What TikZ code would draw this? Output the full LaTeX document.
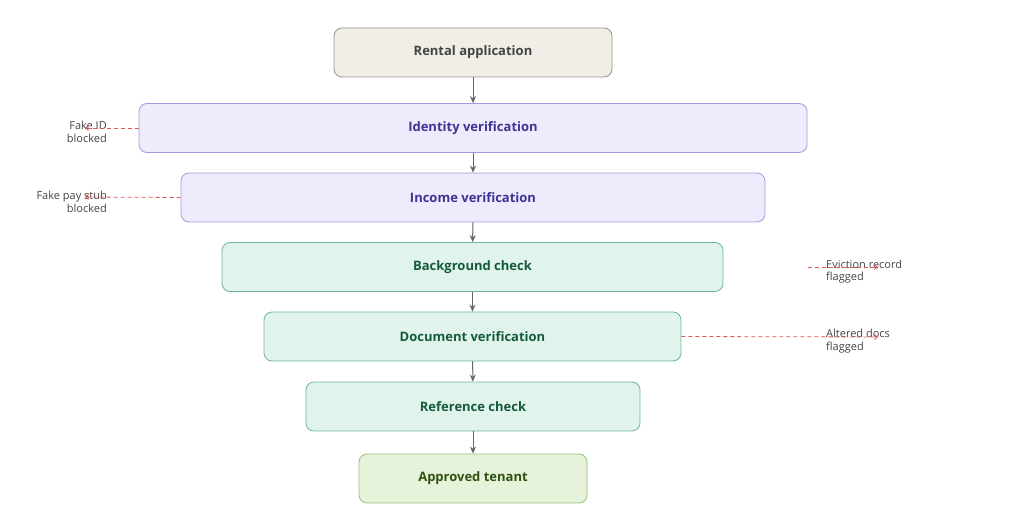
\documentclass[tikz,border=0pt]{standalone}
\usepackage{fontspec}
\setmainfont{Open Sans}
\usetikzlibrary{arrows.meta}
\definecolor{gbg}{HTML}{F1EEE7}\definecolor{gbd}{HTML}{9A968C}\definecolor{gtx}{HTML}{444444}
\definecolor{pbg}{HTML}{EDEBFC}\definecolor{pbd}{HTML}{A39BE0}\definecolor{ptx}{HTML}{3E3494}
\definecolor{tbg}{HTML}{E1F4EC}\definecolor{tbd}{HTML}{6EB596}\definecolor{ttx}{HTML}{145A3E}
\definecolor{lbg}{HTML}{E7F2DA}\definecolor{lbd}{HTML}{97C07A}\definecolor{ltx}{HTML}{2E5214}
\definecolor{red}{HTML}{E05555}
\begin{document}
\begin{tikzpicture}[x=1pt,y=-1pt,
 box/.style={draw, rounded corners=8pt, line width=0.8pt, font=\bfseries\fontsize{13}{15}\selectfont, inner sep=0pt, minimum height=49pt},
 g/.style={box, fill=gbg, draw=gbd, text=gtx},
 p/.style={box, fill=pbg, draw=pbd, text=ptx},
 t/.style={box, fill=tbg, draw=tbd, text=ttx},
 l/.style={box, fill=lbg, draw=lbd, text=ltx},
 arr/.style={-{Stealth[length=7pt,width=6pt]}, draw=gray!80!black, line width=1pt},
 dsh/.style={-{Straight Barb[length=3pt,width=5pt]}, draw=red, dashed, line width=0.8pt, dash pattern=on 4pt off 3pt},
 lab/.style={font=\fontsize{11}{12.5}\selectfont, text=gtx, inner sep=0pt, align=#1}]
\useasboundingbox (0,0) rectangle (1024,518);
\node[g, minimum width=278pt] (a) at (473,52.5) {Rental application};
\node[p, minimum width=668pt] (b) at (473,128) {Identity verification};
\node[p, minimum width=584pt] (c) at (473,197.5) {Income verification};
\node[t, minimum width=501pt] (d) at (472.5,267) {Background check};
\node[t, minimum width=417pt] (e) at (472.5,336.5) {Document verification};
\node[t, minimum width=334pt] (f) at (473,406.5) {Reference check};
\node[l, minimum width=228pt] (h) at (473,478.5) {Approved tenant};
\foreach \u/\v in {a/b,b/c,c/d,d/e,e/f,f/h} \draw[arr] (\u) -- (\v);
\node[lab=right, anchor=east] (l1) at (107,132) {Fake ID\\blocked};
\node[lab=right, anchor=east] (l2) at (107,202) {Fake pay stub\\blocked};
\node[lab=left, anchor=west] (r1) at (826,271.5) {Eviction record\\flagged};
\node[lab=left, anchor=west] (r2) at (826,341) {Altered docs\\flagged};
\coordinate (t1) at (85,128); \coordinate (t2) at (85,197);
\coordinate (s3) at (808,267); \coordinate (t3) at (878,267); \coordinate (t4) at (878,337);
\draw[dsh] (b.west) -- (t1);
\draw[dsh] (c.west) -- (t2);
\draw[dsh] (s3) -- (t3);
\draw[dsh] (e.east) -- (t4);
\end{tikzpicture}
\end{document}
